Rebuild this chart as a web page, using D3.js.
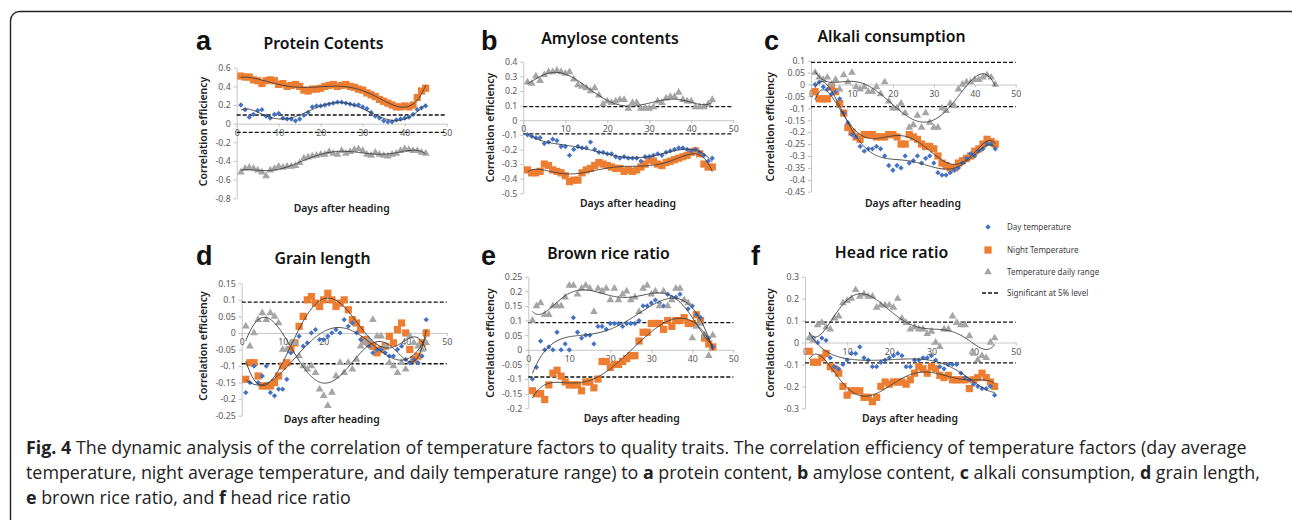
<!DOCTYPE html>
<html>
<head>
<meta charset="utf-8">
<script src="https://cdn.jsdelivr.net/npm/d3@7"></script>
<style>
  body { margin: 0; background: #fff; }
  .tick text { fill: #595959; font-family: "Noto Sans", sans-serif; font-size: 8.8px; }
  .domain, .tick line { stroke: #bfbfbf; }
</style>
</head>
<body>
<div id="fig"></div>
<script>
// days after heading
var days = [1,2,3,4,5,6,7,8,9,10,11,12,13,14,15,16,17,18,19,20,21,22,23,24,25,26,27,28,29,30,31,32,33,34,35,36,37,38,39,40,41,42,43,44,45];
var xTicks = [0, 10, 20, 30, 40, 50];

// a - protein contents
var proteinDay = [0.20,0.15,0.07,0.10,0.14,0.15,0.08,0.06,0.10,0.11,0.06,0.05,0.05,0.03,0.05,0.09,0.12,0.18,0.19,0.19,0.20,0.21,0.22,0.23,0.23,0.22,0.21,0.20,0.20,0.18,0.16,0.12,0.08,0.06,0.03,0.02,0.02,0.04,0.05,0.06,0.07,0.10,0.15,0.17,0.19];
var proteinNight = [0.51,0.50,0.50,0.47,0.46,0.43,0.46,0.47,0.46,0.42,0.43,0.40,0.41,0.42,0.40,0.36,0.35,0.37,0.37,0.38,0.40,0.41,0.42,0.40,0.41,0.42,0.40,0.39,0.37,0.36,0.33,0.31,0.29,0.26,0.24,0.22,0.20,0.18,0.18,0.19,0.18,0.20,0.28,0.35,0.38];
var proteinRange = [-0.52,-0.48,-0.47,-0.48,-0.50,-0.52,-0.56,-0.50,-0.48,-0.46,-0.47,-0.46,-0.46,-0.45,-0.42,-0.37,-0.36,-0.35,-0.34,-0.33,-0.33,-0.30,-0.32,-0.33,-0.29,-0.32,-0.30,-0.28,-0.27,-0.29,-0.33,-0.34,-0.31,-0.33,-0.34,-0.35,-0.33,-0.32,-0.29,-0.27,-0.28,-0.29,-0.29,-0.31,-0.32];
var proteinTicks = [0.6,0.4,0.2,0,-0.2,-0.4,-0.6,-0.8];

// b - amylose contents
var amyloseDay = [-0.10,-0.11,-0.12,-0.12,-0.16,-0.15,-0.13,-0.14,-0.18,-0.18,-0.24,-0.20,-0.18,-0.19,-0.19,-0.15,-0.20,-0.22,-0.22,-0.23,-0.23,-0.25,-0.26,-0.25,-0.26,-0.26,-0.26,-0.28,-0.25,-0.25,-0.24,-0.23,-0.24,-0.22,-0.21,-0.20,-0.19,-0.19,-0.20,-0.21,-0.20,-0.22,-0.24,-0.28,-0.26];
var amyloseNight = [-0.34,-0.36,-0.36,-0.35,-0.30,-0.31,-0.34,-0.35,-0.36,-0.38,-0.42,-0.41,-0.41,-0.36,-0.34,-0.33,-0.31,-0.29,-0.30,-0.31,-0.32,-0.33,-0.33,-0.35,-0.34,-0.35,-0.34,-0.32,-0.30,-0.27,-0.28,-0.30,-0.31,-0.29,-0.28,-0.27,-0.26,-0.25,-0.24,-0.22,-0.21,-0.23,-0.30,-0.32,-0.32];
var amyloseRange = [0.26,0.25,0.30,0.27,0.31,0.33,0.33,0.34,0.33,0.32,0.33,0.28,0.24,0.23,0.22,0.20,0.22,0.17,0.11,0.13,0.12,0.13,0.14,0.14,0.08,0.12,0.12,0.08,0.08,0.08,0.09,0.13,0.12,0.15,0.16,0.16,0.19,0.14,0.13,0.13,0.09,0.09,0.09,0.11,0.14];
var amyloseTicks = [0.4,0.3,0.2,0.1,0,-0.1,-0.2,-0.3,-0.4,-0.5];

// c - alkali consumption
var alkaliDay = [0.00,0.01,-0.01,-0.02,-0.04,-0.03,-0.06,-0.12,-0.16,-0.21,-0.22,-0.26,-0.28,-0.27,-0.27,-0.26,-0.27,-0.30,-0.34,-0.36,-0.34,-0.35,-0.30,-0.33,-0.32,-0.30,-0.33,-0.31,-0.30,-0.33,-0.37,-0.38,-0.38,-0.37,-0.36,-0.35,-0.33,-0.31,-0.29,-0.30,-0.28,-0.27,-0.25,-0.25,-0.27];
var alkaliNight = [-0.03,-0.06,-0.06,-0.06,-0.01,-0.03,-0.08,-0.12,-0.18,-0.20,-0.22,-0.23,-0.21,-0.21,-0.21,-0.22,-0.22,-0.22,-0.21,-0.21,-0.22,-0.25,-0.25,-0.21,-0.22,-0.23,-0.25,-0.26,-0.26,-0.27,-0.30,-0.33,-0.34,-0.35,-0.35,-0.33,-0.32,-0.31,-0.30,-0.28,-0.27,-0.25,-0.23,-0.24,-0.25];
var alkaliRange = [0.05,0.03,0.02,0.03,0.00,0.02,-0.02,0.04,0.01,0.05,-0.01,-0.02,-0.01,-0.03,-0.03,-0.01,-0.04,0.01,-0.07,-0.10,-0.10,-0.08,-0.12,-0.18,-0.17,-0.13,-0.18,-0.12,-0.16,-0.18,-0.18,-0.10,-0.11,-0.08,-0.09,-0.02,0.00,0.01,0.01,0.02,0.02,0.03,0.04,0.03,0.00];
var alkaliTicks = [0.1,0.05,0,-0.05,-0.1,-0.15,-0.2,-0.25,-0.3,-0.35,-0.4,-0.45];

// d - grain length
var grainDay = [-0.18,-0.15,-0.10,-0.15,-0.13,-0.10,-0.18,-0.19,-0.17,-0.17,-0.14,-0.06,-0.03,-0.01,-0.04,-0.03,0.00,0.01,-0.02,-0.02,-0.01,0.00,0.01,0.00,0.04,0.02,0.03,0.00,-0.02,-0.03,-0.04,-0.06,-0.05,-0.05,-0.06,-0.07,-0.07,-0.05,-0.04,-0.08,-0.09,-0.08,-0.09,-0.07,0.04];
var grainNight = [-0.14,-0.09,-0.09,-0.13,-0.16,-0.16,-0.16,-0.15,-0.13,-0.10,-0.09,-0.05,-0.03,0.02,0.05,0.10,0.11,0.09,0.08,0.10,0.12,0.10,0.08,0.09,0.10,0.07,0.04,0.03,0.01,-0.02,-0.03,-0.04,-0.06,-0.05,-0.04,-0.01,-0.03,0.01,0.03,0.00,-0.05,-0.08,-0.07,-0.03,0.00];
var grainRange = [0.02,-0.04,0.00,0.04,0.06,0.04,0.06,0.05,0.03,-0.05,-0.05,-0.03,-0.03,-0.07,-0.10,-0.11,-0.10,-0.12,-0.17,-0.19,-0.22,-0.18,-0.13,-0.09,-0.12,-0.09,-0.11,-0.08,-0.04,-0.03,-0.02,0.04,-0.01,-0.01,-0.04,-0.09,-0.10,-0.12,-0.09,-0.11,-0.01,-0.03,-0.04,-0.05,-0.03];
var grainTicks = [0.15,0.1,0.05,0,-0.05,-0.1,-0.15,-0.2,-0.25];

// e - brown rice ratio
var brownDay = [-0.10,-0.06,0.03,0.00,0.01,0.00,0.06,0.00,0.02,0.00,0.11,0.06,0.04,0.05,0.05,0.02,0.08,0.08,0.07,0.09,0.09,0.09,0.08,0.09,0.09,0.09,0.10,0.15,0.15,0.16,0.17,0.16,0.15,0.19,0.18,0.18,0.19,0.17,0.14,0.15,0.12,0.11,0.05,0.04,0.01];
var brownNight = [-0.14,-0.15,-0.15,-0.17,-0.12,-0.08,-0.07,-0.09,-0.11,-0.12,-0.12,-0.12,-0.14,-0.11,-0.11,-0.13,-0.10,-0.04,-0.04,-0.06,-0.05,-0.05,-0.04,-0.03,-0.02,-0.02,0.03,0.06,0.06,0.09,0.09,0.09,0.07,0.10,0.08,0.10,0.10,0.11,0.09,0.09,0.12,0.10,0.04,0.02,0.01];
var brownRange = [0.10,0.15,0.16,0.12,0.12,0.15,0.15,0.15,0.18,0.22,0.22,0.19,0.21,0.22,0.21,0.13,0.21,0.20,0.21,0.17,0.21,0.17,0.19,0.20,0.17,0.18,0.13,0.21,0.22,0.19,0.20,0.15,0.20,0.15,0.17,0.21,0.21,0.17,0.16,0.04,0.08,0.09,0.05,-0.02,0.05];
var brownTicks = [0.25,0.2,0.15,0.1,0.05,0,-0.05,-0.1,-0.15,-0.2];

// f - head rice ratio
var headDay = [0.02,0.02,0.00,0.02,0.01,-0.07,-0.11,-0.12,-0.10,-0.08,-0.05,-0.05,-0.02,-0.07,-0.08,-0.11,-0.11,-0.09,-0.08,-0.07,-0.06,-0.05,-0.06,-0.11,-0.11,-0.08,-0.08,-0.07,-0.07,-0.06,-0.08,-0.11,-0.12,-0.10,-0.10,-0.10,-0.14,-0.16,-0.17,-0.19,-0.20,-0.21,-0.21,-0.20,-0.24];
var headNight = [-0.04,-0.09,-0.09,-0.07,-0.05,-0.11,-0.12,-0.14,-0.20,-0.24,-0.22,-0.22,-0.22,-0.25,-0.25,-0.27,-0.25,-0.20,-0.18,-0.19,-0.18,-0.18,-0.18,-0.19,-0.17,-0.14,-0.11,-0.12,-0.14,-0.11,-0.12,-0.15,-0.16,-0.15,-0.17,-0.17,-0.17,-0.17,-0.21,-0.17,-0.16,-0.14,-0.16,-0.18,-0.20];
var headRange = [0.02,0.01,0.08,0.09,0.07,0.06,0.11,0.12,0.18,0.19,0.20,0.24,0.21,0.22,0.21,0.21,0.16,0.17,0.17,0.17,0.16,0.20,0.11,0.09,0.06,0.07,0.06,0.06,0.04,0.05,0.00,-0.02,0.06,0.06,0.12,0.09,0.08,0.08,0.03,-0.05,-0.08,-0.06,-0.07,0.00,0.02];
var headTicks = [0.3,0.2,0.1,0,-0.1,-0.2,-0.3];

var sigLevel = 0.093;
var legendLabels = ["Day temperature", "Night Temperature", "Temperature daily range", "Significant at 5% level"];
var colors = { day: "#4472c4", night: "#ed7d31", range: "#a5a5a5" };

// panel layout (pixel boxes for each small chart)
var panels = [
  { letter: "a", title: "Protein Cotents", day: proteinDay, night: proteinNight, range: proteinRange, ticks: proteinTicks,
    x: [236.7, 446.7], y: [198.3, 67.7], letterPos: [196, 50], titlePos: [323.5, 49], yLab: [203, 131.5], xLab: [341.7, 211.7] },
  { letter: "b", title: "Amylose contents", day: amyloseDay, night: amyloseNight, range: amyloseRange, ticks: amyloseTicks,
    x: [523.3, 733.3], y: [193.3, 61.7], letterPos: [481, 50], titlePos: [610, 43.5], yLab: [490, 127.5], xLab: [628, 206.7] },
  { letter: "c", title: "Alkali consumption", day: alkaliDay, night: alkaliNight, range: alkaliRange, ticks: alkaliTicks,
    x: [811, 1015.7], y: [191.7, 60.7], letterPos: [764, 50], titlePos: [891.5, 42], yLab: [770.7, 126.7], xLab: [913, 206.7] },
  { letter: "d", title: "Grain length", day: grainDay, night: grainNight, range: grainRange, ticks: grainTicks,
    x: [241.7, 446.7], y: [415.7, 283.3], letterPos: [196, 265], titlePos: [322.5, 264], yLab: [203.3, 346], xLab: [331.7, 422.7] },
  { letter: "e", title: "Brown rice ratio", day: brownDay, night: brownNight, range: brownRange, ticks: brownTicks,
    x: [528.3, 733.3], y: [408.3, 276.7], letterPos: [481, 265], titlePos: [608.5, 259], yLab: [490, 343], xLab: [631.7, 421.7] },
  { letter: "f", title: "Head rice ratio", day: headDay, night: headNight, range: headRange, ticks: headTicks,
    x: [805, 1015.7], y: [408.3, 276.7], letterPos: [751, 265], titlePos: [891.5, 258], yLab: [770.7, 343], xLab: [910, 421.7] }
];

var svg = d3.select("#fig").append("svg")
  .attr("width", 1292)
  .attr("height", 520)
  .style("display", "block");

// rounded frame of the figure box
svg.append("rect")
  .attr("x", 10.5).attr("y", 11.5)
  .attr("width", 1300).attr("height", 540)
  .attr("rx", 9)
  .attr("fill", "none")
  .attr("stroke", "#222")
  .attr("stroke-width", 1.4);

// least squares polynomial trend (like an excel order-6 trendline)
function polyFit(xs, ys, deg) {
  var n = deg + 1;
  var mx = d3.mean(xs), sx = (d3.max(xs) - d3.min(xs)) / 2;
  var ts = xs.map(x => (x - mx) / sx);
  var A = [];
  for (var i = 0; i < n; i++) {
    A[i] = [];
    for (var j = 0; j < n; j++) A[i][j] = d3.sum(ts, t => Math.pow(t, i + j));
    A[i][n] = d3.sum(ts, (t, k) => ys[k] * Math.pow(t, i));
  }
  for (var c = 0; c < n; c++) {
    var p = c;
    for (var r = c + 1; r < n; r++) if (Math.abs(A[r][c]) > Math.abs(A[p][c])) p = r;
    var tmp = A[c]; A[c] = A[p]; A[p] = tmp;
    for (var r2 = 0; r2 < n; r2++) {
      if (r2 === c) continue;
      var f = A[r2][c] / A[c][c];
      for (var k = c; k <= n; k++) A[r2][k] -= f * A[c][k];
    }
  }
  var coef = A.map((row, i) => row[n] / row[i]);
  return function(x) {
    var t = (x - mx) / sx;
    return coef.reduce((s, cf, i) => s + cf * Math.pow(t, i), 0);
  };
}

var fmt = d => d === 0 ? "0" : String(+d.toFixed(2));

panels.forEach(function(p) {
  var x = d3.scaleLinear().domain([0, 50]).range(p.x);
  var y = d3.scaleLinear().domain(d3.extent(p.ticks)).range(p.y);
  var g = svg.append("g");

  // axes
  g.append("g")
    .attr("transform", `translate(${p.x[0]},0)`)
    .call(d3.axisLeft(y).tickValues(p.ticks).tickSize(3).tickPadding(3).tickFormat(fmt).tickSizeOuter(0));

  g.append("g")
    .attr("transform", `translate(0,${y(0)})`)
    .call(d3.axisBottom(x).tickValues(xTicks).tickSize(3).tickPadding(3).tickSizeOuter(0));

  g.selectAll(".domain").attr("stroke-width", 0.9);

  // significance lines
  [sigLevel, -sigLevel].forEach(function(v) {
    g.append("line")
      .attr("x1", x(0)).attr("x2", x(50))
      .attr("y1", y(v)).attr("y2", y(v))
      .attr("stroke", "#111")
      .attr("stroke-width", 1.3)
      .attr("stroke-dasharray", "4,2");
  });

  // points
  var diamond = d3.symbol().type(d3.symbolSquare).size(14);
  var square = d3.symbol().type(d3.symbolSquare).size(52);
  var tri = d3.symbol().type(d3.symbolTriangle).size(26);

  g.selectAll(".night").data(p.night).enter().append("path")
    .attr("d", square)
    .attr("transform", (d, i) => `translate(${x(days[i])},${y(d)})`)
    .attr("fill", colors.night);

  g.selectAll(".day").data(p.day).enter().append("path")
    .attr("d", diamond)
    .attr("transform", (d, i) => `translate(${x(days[i])},${y(d)}) rotate(45)`)
    .attr("fill", colors.day);

  g.selectAll(".range").data(p.range).enter().append("path")
    .attr("d", tri)
    .attr("transform", (d, i) => `translate(${x(days[i])},${y(d)})`)
    .attr("fill", colors.range);

  // trendlines
  var line = d3.line().x(d => x(d[0])).y(d => y(d[1])).curve(d3.curveLinear);
  var samples = d3.range(1, 45.01, 0.25);
  [p.day, p.night, p.range].forEach(function(series) {
    var fit = polyFit(days, series, 6);
    g.append("path")
      .datum(samples.map(s => [s, fit(s)]))
      .attr("d", line)
      .attr("fill", "none")
      .attr("stroke", "#3a3a3a")
      .attr("stroke-width", 0.9);
  });

  // labels
  svg.append("text")
    .attr("x", p.letterPos[0]).attr("y", p.letterPos[1])
    .attr("font-family", "Liberation Sans, Arial, sans-serif")
    .attr("font-weight", "bold")
    .attr("font-size", 27)
    .attr("fill", "#111")
    .text(p.letter);

  svg.append("text")
    .attr("x", p.titlePos[0]).attr("y", p.titlePos[1])
    .attr("text-anchor", "middle")
    .attr("font-family", "Noto Sans, sans-serif")
    .attr("font-weight", 600)
    .attr("font-size", 15.8)
    .attr("fill", "#111")
    .text(p.title);

  svg.append("text")
    .attr("transform", `translate(${p.yLab[0]},${p.yLab[1]}) rotate(-90)`)
    .attr("text-anchor", "middle")
    .attr("dy", "0.35em")
    .attr("font-family", "Noto Sans, sans-serif")
    .attr("font-weight", 600)
    .attr("font-size", 10.5)
    .attr("fill", "#222")
    .text("Correlation efficiency");

  svg.append("text")
    .attr("x", p.xLab[0]).attr("y", p.xLab[1])
    .attr("text-anchor", "middle")
    .attr("font-family", "Noto Sans, sans-serif")
    .attr("font-weight", 600)
    .attr("font-size", 10.4)
    .attr("fill", "#222")
    .text("Days after heading");
});

// legend
var legend = svg.append("g");
var legendY = [227, 250, 272, 293];
legend.append("path").attr("d", d3.symbol().type(d3.symbolSquare).size(14))
  .attr("transform", `translate(988,${legendY[0]}) rotate(45)`).attr("fill", colors.day);
legend.append("path").attr("d", d3.symbol().type(d3.symbolSquare).size(52))
  .attr("transform", `translate(988,${legendY[1]})`).attr("fill", colors.night);
legend.append("path").attr("d", d3.symbol().type(d3.symbolTriangle).size(26))
  .attr("transform", `translate(988,${legendY[2]})`).attr("fill", colors.range);
legend.append("line").attr("x1", 982).attr("x2", 998).attr("y1", legendY[3]).attr("y2", legendY[3])
  .attr("stroke", "#111").attr("stroke-width", 1.3).attr("stroke-dasharray", "4,2");
legend.selectAll("text").data(legendLabels).enter().append("text")
  .attr("x", 1007)
  .attr("y", (d, i) => legendY[i])
  .attr("dy", "0.35em")
  .attr("font-family", "Noto Sans, sans-serif")
  .attr("font-size", 8)
  .attr("fill", "#404040")
  .text(d => d);

// caption
var caption = [
  [["Fig. 4", true], [" The dynamic analysis of the correlation of temperature factors to quality traits. The correlation efficiency of temperature factors (day average", false]],
  [["temperature, night average temperature, and daily temperature range) to ", false], ["a", true], [" protein content, ", false], ["b", true], [" amylose content, ", false], ["c", true], [" alkali consumption, ", false], ["d", true], [" grain length,", false]],
  [["e", true], [" brown rice ratio, and ", false], ["f", true], [" head rice ratio", false]]
];
var capY = [454, 479, 504];
caption.forEach(function(parts, i) {
  var t = svg.append("text")
    .attr("x", 26).attr("y", capY[i])
    .attr("font-family", "Open Sans, sans-serif")
    .attr("font-size", 17.85)
    .attr("fill", "#222")
    .attr("xml:space", "preserve");
  parts.forEach(function(part) {
    t.append("tspan")
      .attr("font-weight", part[1] ? "bold" : "normal")
      .text(part[0]);
  });
});
</script>
</body>
</html>
